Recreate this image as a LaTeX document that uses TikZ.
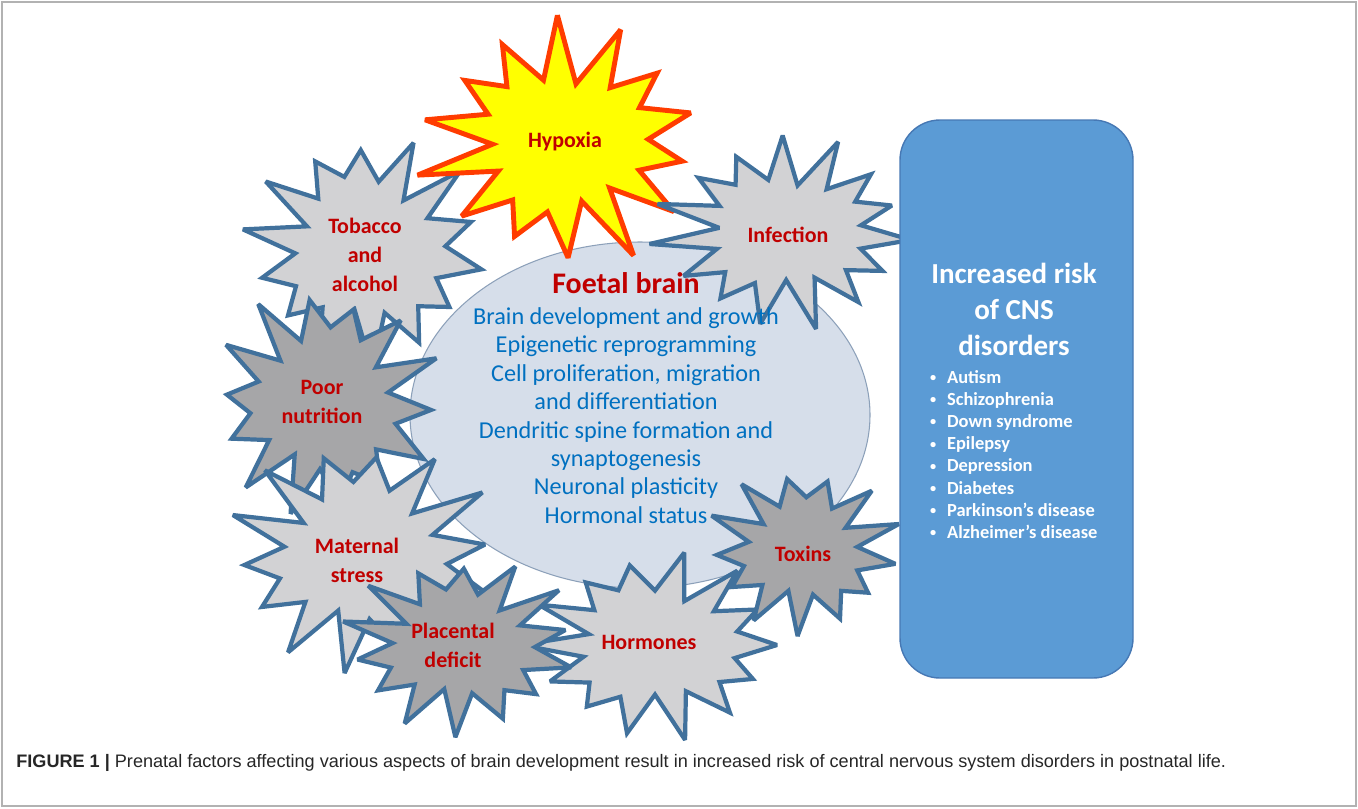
\documentclass[tikz,border=0pt]{standalone}
\usepackage{fontspec}
\setmainfont{Carlito}
\newfontfamily\captionfont{Liberation Sans}

\definecolor{burstblue}{RGB}{65,113,156}
\definecolor{burstlight}{RGB}{210,210,212}
\definecolor{burstdark}{RGB}{166,166,168}
\definecolor{hypoyellow}{RGB}{255,255,0}
\definecolor{hypored}{RGB}{255,60,0}
\definecolor{brainfill}{RGB}{214,222,234}
\definecolor{brainedge}{RGB}{140,160,185}
\definecolor{factorred}{RGB}{192,0,0}
\definecolor{aspectblue}{RGB}{0,112,192}
\definecolor{riskblue}{RGB}{91,155,213}
\definecolor{riskedge}{RGB}{70,120,180}

% starburst: x, y, corners, outer, inner, turn, squash
\newcommand{\burst}[7]{plot[domain=0:#3-1, samples=#3, variable=\k]
  ({#1+((#4+#5)/2+(#4-#5)/2*cos(180*\k))*(1+0.11*sin(\k*137+#6))*cos(#6+360*\k/#3)},
   {#2+#7*((#4+#5)/2+(#4-#5)/2*cos(180*\k))*(1+0.11*sin(\k*137+#6))*sin(#6+360*\k/#3)}) -- cycle}

\tikzset{
  burst/.style={draw=burstblue, line width=2.4pt, line join=miter, miter limit=3},
  factor/.style={text=factorred, align=center, font=\fontsize{12.5}{16.4}\selectfont\bfseries},
  aspect/.style={text=aspectblue, align=center, font=\fontsize{13.8}{16.2}\selectfont},
}
\newcommand{\riskdot}{\makebox[9.6pt][l]{\raisebox{1pt}{\fontsize{7}{7}\selectfont•}}}

\begin{document}
\begin{tikzpicture}[x=0.02cm, y=-0.02cm]
\useasboundingbox (0,0) rectangle (1358,808);
\draw[gray!60, line width=0.8pt] (2,2) rectangle (1356,806);

% foetal brain
\draw[fill=brainfill, draw=brainedge, line width=0.6pt] (640,415) ellipse [x radius=230, y radius=173];

% factors
\draw[burst, fill=burstlight] \burst{366}{250}{28}{115}{72}{10}{0.95};
\draw[burst, fill=burstdark] \burst{325}{402}{28}{108}{68}{30}{1};
\draw[burst, fill=hypoyellow, draw=hypored, line width=2.8pt] \burst{563}{142}{28}{136}{78}{-15}{0.85};
\draw[burst, fill=burstlight] \burst{785}{232}{30}{125}{74}{5}{0.72};
\draw[burst, fill=burstlight] \burst{362}{555}{28}{128}{78}{20}{0.85};
\draw[burst, fill=burstlight] \burst{655}{645}{28}{122}{76}{0}{0.72};
\draw[burst, fill=burstdark] \burst{460}{645}{28}{112}{68}{15}{0.75};
\draw[burst, fill=burstdark] \burst{803}{550}{26}{92}{56}{10}{0.85};

\node[factor] (hypoxia) at (565,142) {Hypoxia};
\node[factor] (tobacco) at (365,255) {Tobacco\\and\\alcohol};
\node[factor] (poornut) at (322,402) {Poor\\nutrition};
\node[factor] (infection) at (788,235) {Infection};
\node[factor] (maternal) at (357,560) {Maternal\\stress};
\node[factor] (placental) at (453,645) {Placental\\deficit};
\node[factor] (hormones) at (649,642) {Hormones};
\node[factor] (toxins) at (803,554) {Toxins};

\node[text=factorred, font=\fontsize{17}{20}\selectfont\bfseries] (foetal) at (626,283) {Foetal brain};
\node[aspect] (aspects) at (626,415.5) {Brain development and growth\\Epigenetic reprogramming\\Cell proliferation, migration\\and differentiation\\Dendritic spine formation and\\synaptogenesis\\Neuronal plasticity\\Hormonal status};

% risk box
\draw[fill=riskblue, draw=riskedge, line width=0.8pt, rounded corners=0.8cm] (900,120) rectangle (1133,678);
\node[text=white, align=center, font=\fontsize{16.5}{20.7}\selectfont\bfseries] (risktitle) at (1014,309.5) {Increased risk\\of CNS\\disorders};
\node[text=white, align=left, anchor=west, font=\fontsize{10.5}{12.6}\selectfont\bfseries] (risklist) at (924,454.5)
  {\riskdot Autism\\\riskdot Schizophrenia\\\riskdot Down syndrome\\\riskdot Epilepsy\\\riskdot Depression\\\riskdot Diabetes\\\riskdot Parkinson’s disease\\\riskdot Alzheimer’s disease};

\node[anchor=west, inner sep=0pt, font=\captionfont\fontsize{10.3}{12}\selectfont, text=black!85] (caption) at (16,763)
  {\textbf{FIGURE 1 |} Prenatal factors affecting various aspects of brain development result in increased risk of central nervous system disorders in postnatal life.};
\end{tikzpicture}
\end{document}
